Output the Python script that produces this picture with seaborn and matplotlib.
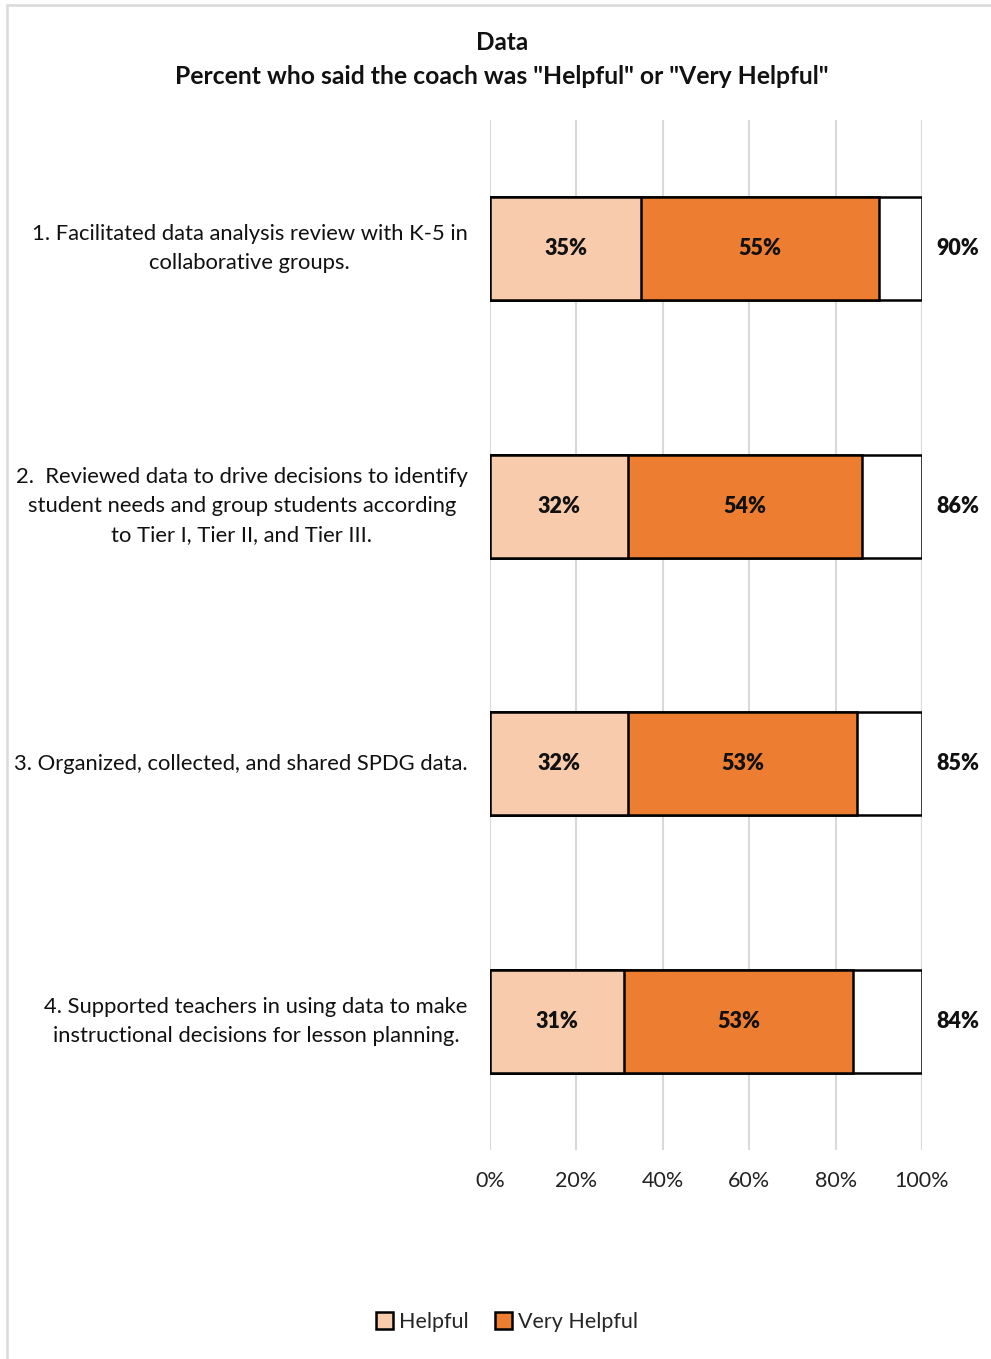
import matplotlib
matplotlib.use("Agg")
import matplotlib.pyplot as plt
from matplotlib.patches import Rectangle, Patch
import seaborn as sns
import pandas as pd

sns.set_theme(style="white")
plt.rcParams["font.family"] = ["Lato", "DejaVu Sans"]

# Survey items and response shares (percent)
items = [
    "1. Facilitated data analysis review with K-5 in\ncollaborative groups.",
    "2.  Reviewed data to drive decisions to identify\nstudent needs and group students according\nto Tier I, Tier II, and Tier III.",
    "3. Organized, collected, and shared SPDG data.",
    "4. Supported teachers in using data to make\ninstructional decisions for lesson planning.",
]
helpful = [35, 32, 32, 31]
very_helpful = [55, 54, 53, 53]
totals = [90, 86, 85, 84]
xticks = [0, 20, 40, 60, 80, 100]

PEACH = "#F8CBAD"
ORANGE = "#ED7D31"
GRID = "#D9D9D9"

df = pd.DataFrame({
    "item": items,
    "helpful": helpful,
    "very": very_helpful,
    "total": totals,
})
df["stack"] = df["helpful"] + df["very"]
df["full"] = 100

fig = plt.figure(figsize=(9.91, 13.59), dpi=100)
ax = fig.add_axes([490 / 991, 1 - 1150 / 1359, 432 / 991, 1030 / 1359])

bar_kw = dict(orient="h", width=0.4, edgecolor="black", linewidth=1.8, ax=ax, zorder=3)
sns.barplot(data=df, x="full", y="item", color="white", **bar_kw)
sns.barplot(data=df, x="stack", y="item", color=ORANGE, saturation=1, **bar_kw)
sns.barplot(data=df, x="helpful", y="item", color=PEACH, saturation=1, **bar_kw)

ax.set_xlim(0, 100)
ax.set_ylim(3.5, -0.5)
ax.set_xticks(xticks)
ax.set_xticklabels([f"{t}%" for t in xticks], fontsize=15.5, color="#222222")
ax.tick_params(axis="x", length=0, pad=15)
ax.tick_params(axis="y", length=0, pad=16)
for lab in ax.get_yticklabels():
    lab.set_fontsize(15.8)
    lab.set_multialignment("center")
    lab.set_linespacing(1.58)
    lab.set_verticalalignment("center")
    lab.set_color("#111111")
ax.set_xlabel("")
ax.set_ylabel("")
ax.grid(axis="x", color=GRID, linewidth=1.5, zorder=0)
ax.grid(axis="y", visible=False)
for s in ax.spines.values():
    s.set_visible(False)

for i, row in df.iterrows():
    ax.text(row["helpful"] / 2, i, f"{row['helpful']}%", ha="center", va="center",
            fontsize=15.5, fontweight="heavy", color="#111111", zorder=5)
    ax.text(row["helpful"] + row["very"] / 2, i, f"{row['very']}%", ha="center",
            va="center", fontsize=15.5, fontweight="heavy", color="#111111", zorder=5)
    ax.text(108.3, i, f"{row['total']}%", ha="center", va="center", fontsize=15.5,
            fontweight="heavy", color="#111111", clip_on=False, zorder=5)

fig.text(502 / 991, 1 - 43 / 1359, "Data", ha="center", va="center",
         fontsize=17.5, fontweight="bold", color="#111111")
fig.text(502 / 991, 1 - 76 / 1359,
         'Percent who said the coach was "Helpful" or "Very Helpful"',
         ha="center", va="center", fontsize=17.8, fontweight="bold", color="#111111")

handles = [Patch(facecolor=PEACH, edgecolor="black", linewidth=1.8, label="Helpful"),
           Patch(facecolor=ORANGE, edgecolor="black", linewidth=1.8, label="Very Helpful")]
fig.legend(handles=handles, loc="center", bbox_to_anchor=(507 / 991, 1 - 1322 / 1359),
           ncol=2, frameon=False, fontsize=15.5, handlelength=0.8, handleheight=0.8,
           handletextpad=0.3, columnspacing=1.2)

# outer chart frame
fig.patches.append(Rectangle((7 / 991, -0.05), 1.2, 1 - 5 / 1359 + 0.05,
                             transform=fig.transFigure, fill=False,
                             edgecolor="#D9D9D9", linewidth=1.8, zorder=0))

fig.savefig("out.png", dpi=100, facecolor="white")
